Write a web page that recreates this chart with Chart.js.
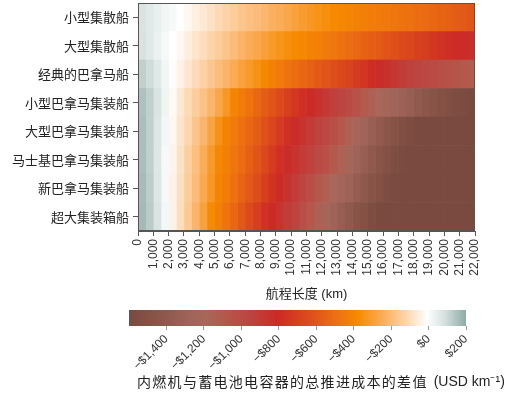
<!DOCTYPE html>
<html>
<head>
<meta charset="utf-8">
<script src="https://cdn.jsdelivr.net/npm/chart.js@4.4.1/dist/chart.umd.min.js"></script>
<style>
  body{margin:0;background:#fff;width:506px;height:403px;overflow:hidden;position:relative}
  canvas{position:absolute;left:0}
  #heat{top:0}
  #bar{top:300px}
</style>
</head>
<body>
<canvas id="heat" width="506" height="305"></canvas>
<canvas id="bar" width="506" height="103"></canvas>
<script>
/* ---------- data ---------- */
const shipTypes = ['小型集散船','大型集散船','经典的巴拿马船','小型巴拿马集装船',
                   '大型巴拿马集装船','马士基巴拿马集装船','新巴拿马集装船','超大集装箱船'];

// distance bins (km), each bin 500 km wide
const binStart = [0,500,1000,1500,2000,2500,3000,3500,4000,4500,5000,5500,6000,6500,7000,7500,
  8000,8500,9000,9500,10000,10500,11000,11500,12000,12500,13000,13500,14000,14500,15000,15500,
  16000,16500,17000,17500,18000,18500,19000,19500,20000,20500,21000,21500];
const maxKm = 22000;

// cost difference, USD per km
const smallFeeder = [75,60,40,20,5,-10,-30,-50,-70,-90,-110,-130,-150,-170,-185,-200,-215,-235,-250,-270,
  -290,-310,-330,-345,-360,-375,-390,-405,-420,-430,-440,-450,-460,-470,-480,-495,-505,-515,-530,-545,-555,-570,-585,-600];
const largeFeeder = [80,60,35,10,-10,-30,-55,-80,-100,-125,-150,-175,-200,-225,-250,-270,-295,-320,-340,-360,
  -380,-395,-410,-425,-445,-465,-485,-505,-525,-545,-565,-585,-605,-625,-650,-670,-695,-715,-740,-760,-785,-800,-815,-825];
const classicPanamax = [120,95,60,20,-15,-45,-75,-105,-135,-165,-195,-225,-255,-290,-320,-355,-390,-425,-450,-480,
  -505,-530,-555,-580,-605,-630,-660,-690,-720,-750,-790,-820,-850,-880,-910,-935,-960,-980,-1000,-1020,-1045,-1070,-1090,-1110];
const smallPanamaxBox = [150,120,75,25,-25,-70,-110,-145,-180,-220,-270,-330,-400,-440,-480,-530,-570,-610,-650,-700,
  -740,-780,-810,-850,-890,-930,-960,-1000,-1050,-1100,-1150,-1190,-1220,-1260,-1300,-1340,-1390,-1430,-1470,-1500,-1530,-1560,-1580,-1600];
const largePanamaxBox = [155,120,70,15,-35,-80,-120,-170,-220,-280,-350,-410,-450,-490,-530,-570,-620,-670,-720,-780,
  -820,-860,-900,-940,-980,-1030,-1090,-1150,-1210,-1270,-1330,-1380,-1430,-1480,-1530,-1570,-1600,-1600,-1600,-1600,-1600,-1600,-1600,-1600];
const maerskPanamax = [155,120,65,10,-40,-90,-140,-190,-250,-320,-390,-430,-470,-510,-560,-610,-660,-720,-780,-820,
  -860,-900,-940,-990,-1040,-1100,-1160,-1220,-1280,-1340,-1400,-1450,-1500,-1550,-1590,-1600,-1600,-1600,-1600,-1600,-1600,-1600,-1600,-1600];
const neoPanamax = [160,125,70,10,-45,-95,-150,-200,-260,-330,-400,-440,-490,-540,-590,-640,-700,-760,-810,-860,
  -910,-970,-1030,-1090,-1140,-1190,-1230,-1290,-1350,-1410,-1470,-1520,-1570,-1600,-1600,-1600,-1600,-1600,-1600,-1600,-1600,-1600,-1600,-1600];
const ultraLargeBox = [165,130,75,15,-45,-100,-160,-220,-290,-380,-430,-480,-530,-590,-650,-710,-770,-810,-860,-910,
  -960,-1020,-1080,-1150,-1220,-1280,-1340,-1400,-1460,-1510,-1560,-1600,-1600,-1600,-1600,-1600,-1600,-1600,-1600,-1600,-1600,-1600,-1600,-1600];

const rows = [smallFeeder, largeFeeder, classicPanamax, smallPanamaxBox,
              largePanamaxBox, maerskPanamax, neoPanamax, ultraLargeBox];

// colour scale
const scaleMin = -1600, scaleMax = 200;
const scaleTicks = [-1400,-1200,-1000,-800,-600,-400,-200,0,200];
const stopValues = [-1600,-1450,-1270,-1190,-1090,-950,-805,-625,-485,-380,-235,-110,-10,85,200];
const stopColors = ['#7a4a40','#8a5549','#a0645a','#a8675a','#b4584c','#bd4440','#cc2a26','#de4f1a',
                    '#ee7210','#f68a00','#fbb060','#fdd9b4','#ffffff','#d5e1df','#8fa9a4'];
const legendTitleCn = '内燃机与蓄电池电容器的总推进成本的差值';
const legendTitleUnit = '(USD km⁻¹)';

/* ---------- helpers ---------- */
const FONT = "'Liberation Sans', 'Noto Sans CJK SC', sans-serif";
const CJK  = "'Noto Sans CJK SC', sans-serif";

function hexRgb(h){ const n=parseInt(h.slice(1),16); return [n>>16&255, n>>8&255, n&255]; }
function colorOf(v){
  v = Math.max(scaleMin, Math.min(scaleMax, v));
  for(let i=1;i<stopValues.length;i++){
    if(v<=stopValues[i]){
      const t=(v-stopValues[i-1])/(stopValues[i]-stopValues[i-1]);
      const a=hexRgb(stopColors[i-1]), b=hexRgb(stopColors[i]);
      return `rgb(${a.map((c,k)=>Math.round(c+(b[k]-c)*t)).join(',')})`;
    }
  }
  return stopColors[stopColors.length-1];
}
function money(v){
  const s='$'+Math.abs(v).toLocaleString('en-US');
  return v<0 ? '−'+s : s;
}

/* ---------- heatmap ---------- */
const frame = {
  id:'frame',
  afterDatasetsDraw(chart){
    const {ctx, chartArea:a} = chart;
    ctx.save();
    ctx.strokeStyle='#555'; ctx.lineWidth=1;
    ctx.strokeRect(a.left+0.5, a.top+0.5, a.width-1, a.height-1);
    ctx.restore();
  }
};

const heatSets = binStart.map((km,j)=>({
  data: shipTypes.map(()=>[km, binStart[j+1] ?? maxKm]),
  backgroundColor: rows.map(r=>colorOf(r[j])),
  borderWidth:0, grouped:false, barPercentage:1, categoryPercentage:1
}));

new Chart(document.getElementById('heat'),{
  type:'bar',
  data:{ labels:shipTypes, datasets:heatSets },
  options:{
    indexAxis:'y', responsive:false, animation:false,
    layout:{ padding:{top:3,right:31,left:0,bottom:0} },
    plugins:{ legend:{display:false}, tooltip:{enabled:false} },
    scales:{
      x:{
        type:'linear', min:0, max:maxKm,
        ticks:{ stepSize:1000, autoSkip:false, minRotation:90, maxRotation:90, padding:3,
                color:'#333', font:{family:FONT,size:12} },
        grid:{ drawOnChartArea:false, tickLength:5, color:'#555' },
        border:{ color:'#555' },
        title:{ display:true, text:'航程长度 (km)', color:'#222',
                font:{family:FONT,size:13}, padding:{top:4,bottom:3} },
        afterFit:s=>{ s.height=74; s.paddingLeft=0; s.paddingRight=0; }
      },
      y:{
        ticks:{ color:'#222', font:{family:CJK,size:13}, padding:4 },
        grid:{ drawOnChartArea:false, offset:false, tickLength:5, color:'#555' },
        border:{ color:'#555' },
        afterFit:s=>{ s.width=138; s.paddingTop=0; s.paddingBottom=0; }
      }
    }
  },
  plugins:[frame]
});

/* ---------- colour bar ---------- */
function barGradient(chart){
  const {ctx, chartArea, scales} = chart;
  if(!chartArea) return stopColors[0];
  const x0=scales.x.getPixelForValue(scaleMin), x1=scales.x.getPixelForValue(scaleMax);
  const g=ctx.createLinearGradient(x0,0,x1,0);
  stopValues.forEach((v,i)=>g.addColorStop((v-scaleMin)/(scaleMax-scaleMin), stopColors[i]));
  return g;
}

// colour bar title, Chinese part letter-spaced like the original
const barTitle = {
  id:'barTitle',
  afterDraw(chart){
    const ctx = chart.ctx, y = 82, x = 137;
    ctx.save();
    ctx.fillStyle='#222'; ctx.textBaseline='middle'; ctx.textAlign='left';
    ctx.font = `14px ${CJK}`;
    ctx.letterSpacing = '1.3px';
    ctx.fillText(legendTitleCn, x, y);
    const w = ctx.measureText(legendTitleCn).width;
    ctx.letterSpacing = '0px';
    ctx.font = `14px ${FONT}`;
    ctx.fillText(legendTitleUnit, x + w + 6, y);
    ctx.restore();
  }
};

new Chart(document.getElementById('bar'),{
  type:'bar',
  data:{ labels:[''], datasets:[{
    data:[[scaleMin, scaleMax]], backgroundColor:c=>barGradient(c.chart),
    borderWidth:0, barPercentage:1, categoryPercentage:1
  }]},
  options:{
    indexAxis:'y', responsive:false, animation:false,
    layout:{ padding:{top:10,right:0,left:0,bottom:0} },
    plugins:{ legend:{display:false}, tooltip:{enabled:false} },
    scales:{
      x:{
        type:'linear', min:scaleMin, max:scaleMax,
        afterBuildTicks:s=>{ s.ticks = scaleTicks.map(v=>({value:v})); },
        ticks:{ autoSkip:false, minRotation:45, maxRotation:45, padding:2,
                color:'#333', font:{family:FONT,size:12}, callback:v=>money(v) },
        grid:{ drawOnChartArea:false, tickLength:4, color:'#999' },
        border:{ display:false },
        afterFit:s=>{ s.height=77; s.paddingLeft=0; s.paddingRight=0; }
      },
      y:{ ticks:{display:false}, grid:{display:false}, border:{display:false},
          afterFit:s=>{ s.width=129; s.paddingTop=0; s.paddingBottom=0; } },
      y2:{ type:'category', labels:[''], position:'right',
           ticks:{display:false}, grid:{display:false}, border:{display:false},
           afterFit:s=>{ s.width=40; s.paddingTop=0; s.paddingBottom=0; } }
    }
  },
  plugins:[barTitle]
});
</script>
</body>
</html>
